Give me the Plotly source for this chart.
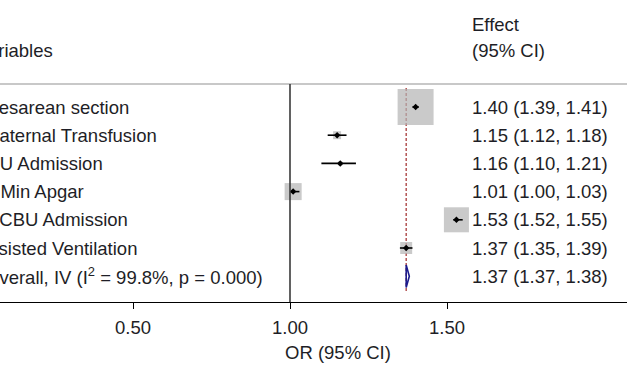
import numpy as np
import plotly.graph_objects as go

# ---------------- data ----------------
labels = ["Caesarean section", "Maternal Transfusion", "NICU Admission",
          "5 Min Apgar", "SCBU Admission", "Assisted Ventilation"]
or_vals = [1.40, 1.15, 1.16, 1.01, 1.53, 1.37]
ci_low = [1.39, 1.12, 1.10, 1.00, 1.52, 1.35]
ci_high = [1.41, 1.18, 1.21, 1.03, 1.55, 1.39]
weights = [53.2, 2.6, 0.7, 11.9, 25.7, 5.9]
overall_label = "Overall, IV (I<sup>2</sup> = 99.8%, p = 0.000)"
overall_or = 1.37
overall_low = 1.37
overall_high = 1.38
tick_vals = [0.5, 1.0, 1.5]
tick_text = ["0.50", "1.00", "1.50"]
header_left = "Variables"
header_right = ["Effect", "(95% CI)"]
x_title = "OR (95% CI)"

# ---------------- layout constants ----------------
W, H = 627, 376
PLOT_BOTTOM = 302           # pixel of x axis line
ROW0, ROW_STEP = 107, 28.2  # pixel of first row and row spacing
X_REF_PX, PX_PER_UNIT = 290, 314
FONT = "Liberation Sans, Arial, sans-serif"
TXT = "#1e1e26"
FS = 18.5
INSET = 2
# left edge (px) of each label text; the chart is cropped at the left border
label_start_px = [-24.6, -16.4, -32.0, -15.5, -13.3, -22.6, -15.4]
header_start_px = -23.0


def row_of_px(p):
    return (p - ROW0) / ROW_STEP


def paper_x(px):
    return px / W


def paper_y(px):
    return (PLOT_BOTTOM - px) / PLOT_BOTTOM


n = len(labels)
rows = list(range(n))
overall_row = n

x_range = [1 - X_REF_PX / PX_PER_UNIT, 1 + (W - X_REF_PX) / PX_PER_UNIT]
y_range = [row_of_px(PLOT_BOTTOM), row_of_px(0)]

fig = go.Figure()

# weight boxes
wmax = max(weights)
box_sizes = [36 * np.sqrt(w / wmax) for w in weights]
fig.add_trace(go.Scatter(
    x=or_vals, y=rows, mode="markers",
    marker=dict(symbol="square", size=box_sizes, color="#b3b3b3", line=dict(width=0)),
    hoverinfo="skip", showlegend=False))

# confidence intervals
cx, cy = [], []
for lo, hi, r in zip(ci_low, ci_high, rows):
    cx += [lo, hi, None]
    cy += [r, r, None]
fig.add_trace(go.Scatter(x=cx, y=cy, mode="lines",
                         line=dict(color="black", width=1.6),
                         hoverinfo="skip", showlegend=False))

# point estimates
fig.add_trace(go.Scatter(
    x=or_vals, y=rows, mode="markers",
    marker=dict(symbol="diamond", size=5, color="black"),
    hoverinfo="skip", showlegend=False))

# overall diamond
h = 0.4
fig.add_trace(go.Scatter(
    x=[overall_low, overall_or, overall_high, overall_or, overall_low],
    y=[overall_row, overall_row - h, overall_row, overall_row + h, overall_row],
    mode="lines", line=dict(color="#1a1a8c", width=1.6),
    hoverinfo="skip", showlegend=False))

# reference lines
fig.add_shape(type="line", xref="paper", yref="y", x0=0, x1=1,
              y0=row_of_px(84), y1=row_of_px(84),
              line=dict(color="#c8c8c8", width=2))
fig.add_shape(type="line", xref="x", yref="y", x0=1, x1=1,
              y0=row_of_px(84), y1=row_of_px(PLOT_BOTTOM),
              line=dict(color="#3a3a3a", width=1.6))
fig.add_shape(type="line", xref="x", yref="y", x0=overall_or, x1=overall_or,
              y0=row_of_px(88), y1=row_of_px(291),
              line=dict(color="#a83a3a", width=1.3, dash="3px,2px"), layer="below")

annotations = []
EFFECT_X = paper_x(472 - INSET)
for lab, r, sx in zip(labels + [overall_label], rows + [overall_row], label_start_px):
    annotations.append(dict(x=paper_x(sx - INSET), y=r, xref="paper", yref="y", text=lab,
                            xanchor="left", yanchor="middle", showarrow=False,
                            font=dict(size=FS, color=TXT, family=FONT)))
effects = list(zip(or_vals, ci_low, ci_high)) + [(overall_or, overall_low, overall_high)]
for (o, lo, hi), r in zip(effects, rows + [overall_row]):
    annotations.append(dict(x=EFFECT_X, y=r, xref="paper", yref="y",
                            text=f"{o:.2f} ({lo:.2f}, {hi:.2f})",
                            xanchor="left", yanchor="middle", showarrow=False,
                            font=dict(size=FS, color=TXT, family=FONT)))
annotations.append(dict(x=paper_x(header_start_px - INSET), y=row_of_px(50), xref="paper",
                        yref="y", text=header_left,
                        xanchor="left", yanchor="middle", showarrow=False,
                        font=dict(size=FS, color=TXT, family=FONT)))
for txt, p in zip(header_right, [24, 50]):
    annotations.append(dict(x=EFFECT_X, y=row_of_px(p), xref="paper", yref="y", text=txt,
                            xanchor="left", yanchor="middle", showarrow=False,
                            font=dict(size=FS, color=TXT, family=FONT)))
annotations.append(dict(x=paper_x(338), y=paper_y(352), xref="paper", yref="paper",
                        text=x_title, xanchor="center", yanchor="middle", showarrow=False,
                        font=dict(size=FS, color=TXT, family=FONT)))

fig.update_layout(
    width=W, height=H,
    margin=dict(l=0, r=0, t=0, b=H - PLOT_BOTTOM, pad=0),
    paper_bgcolor="white", plot_bgcolor="white",
    annotations=annotations,
    xaxis=dict(range=x_range, tickvals=tick_vals, ticktext=tick_text,
               showgrid=False, zeroline=False, showline=True, linecolor="black",
               linewidth=1.4, ticks="outside", ticklen=6, tickwidth=1.4,
               tickcolor="black", ticklabelstandoff=3,
               tickfont=dict(size=FS, color=TXT, family=FONT), fixedrange=True),
    yaxis=dict(range=y_range, showgrid=False, zeroline=False, showline=False,
               showticklabels=False, ticks="", fixedrange=True),
    showlegend=False,
)

fig.write_html(
    "out.html",
    config={"displayModeBar": False},
    post_script="document.body.style.margin='0px';document.body.style.overflow='hidden';",
)
